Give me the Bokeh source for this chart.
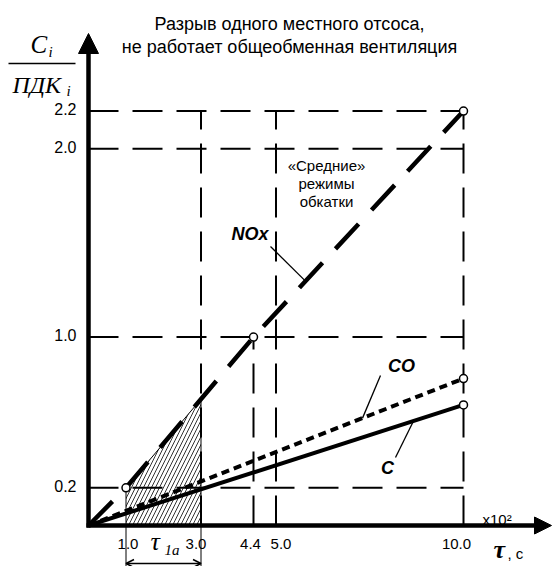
import numpy as np
from bokeh.plotting import figure
from bokeh.models import Range1d, Arrow, NormalHead, OpenHead
from bokeh.core.properties import value
from bokeh.embed import file_html
from bokeh.resources import INLINE

# ---------------------------------------------------------------- data
# time axis in units of 10^2 s, concentration as C_i / ПДК_i
tau_nox = [0.0, 1.0, 4.4, 10.0]
nox = [0.0, 0.2, 1.0, 2.2]
tau_co = [0.0, 10.0]
co = [0.0, 0.78]
tau_c = [0.0, 10.0]
c_soot = [0.0, 0.64]

x_ticks = [1.0, 3.0, 4.4, 5.0, 10.0]
x_tick_labels = ["1.0", "3.0", "4.4", "5.0", "10.0"]
y_ticks = [0.2, 1.0, 2.0, 2.2]
y_tick_labels = ["0.2", "1.0", "2.0", "2.2"]
tau_1a = [1.0, 3.0]            # interval τ1a (hatched)
v_guides = [3.0, 5.0, 10.0]    # vertical guides up to the top level

# ---------------------------------------------------------------- layout
W, H = 552, 566
X0, Y0 = 88, 525          # canvas pixel of the origin
SX, SY = 37.5, 188.4      # pixels per unit on each axis
x_label_nudge = [2, -5, -3, 5, -7]   # px, keeps close tick labels apart


def ux(px):
    return (px - X0) / SX


def uy(py):
    return (Y0 - py) / SY


p = figure(width=W, height=H, output_backend="svg", toolbar_location=None,
           x_range=Range1d(ux(0), ux(W)), y_range=Range1d(uy(H), uy(0)),
           x_axis_location=None, y_axis_location=None, min_border=0)
p.outline_line_color = None
p.grid.visible = False
p.background_fill_color = "white"
p.border_fill_color = "white"

SANS = value("Liberation Sans")
SERIF = value("Liberation Serif")


def label(px, py, txt, size, font=SANS, style="normal", align="left",
          baseline="alphabetic"):
    p.text(x=[ux(px)], y=[uy(py)], text=[txt], text_font=font,
           text_font_size=f"{size}px", text_font_style=style,
           text_align=align, text_baseline=baseline, text_color="black")


# ---------------------------------------------------------------- guides
tau_max = max(x_ticks)
top = max(y_ticks)
DASH = "30 14"
p.segment(x0=[0] * len(y_ticks), y0=y_ticks, x1=[tau_max] * len(y_ticks),
          y1=y_ticks, line_width=2, line_dash=DASH, line_color="black")
p.segment(x0=v_guides, y0=[0] * len(v_guides), x1=v_guides,
          y1=[top] * len(v_guides), line_width=2, line_dash=DASH,
          line_color="black")
nox_44 = float(np.interp(4.4, tau_nox, nox))
p.segment(x0=[4.4], y0=[0], x1=[4.4], y1=[nox_44], line_width=2,
          line_dash=DASH, line_color="black")

# hatched interval τ1a under the NOx curve
n1 = float(np.interp(tau_1a[0], tau_nox, nox))
n3 = float(np.interp(tau_1a[1], tau_nox, nox))
p.patch([tau_1a[0], tau_1a[0], tau_1a[1], tau_1a[1]], [0, n1, n3, 0],
        fill_color=None, hatch_pattern="/", hatch_color="black",
        hatch_weight=0.8, hatch_scale=8, line_color="black", line_width=1)
p.segment(x0=tau_1a, y0=[0, 0], x1=tau_1a, y1=[uy(H)] * 2,
          line_width=1, line_color="black")

# ---------------------------------------------------------------- series
p.line(tau_nox, nox, line_width=4.5, line_dash="34 19", line_color="black")
p.line(tau_co, co, line_width=4, line_dash="8 5", line_color="black")
p.line(tau_c, c_soot, line_width=4, line_color="black")
p.scatter(x=tau_nox[1:] + [tau_co[-1], tau_c[-1]],
          y=nox[1:] + [co[-1], c_soot[-1]], size=8, fill_color="white",
          line_color="black", line_width=1.5)

# callout leaders: label anchor -> point on the curve
for (sx, sy, tip_px, tt, vv) in [(270, 246, 305, tau_nox, nox),
                                 (380, 375, 362, tau_co, co),
                                 (395, 457, 413, tau_c, c_soot)]:
    tx = ux(tip_px)
    ty = float(np.interp(tx, tt, vv))
    p.segment(x0=[ux(sx)], y0=[uy(sy)], x1=[tx], y1=[ty], line_width=1.3,
              line_color="black")

# ---------------------------------------------------------------- axes
p.add_layout(Arrow(end=NormalHead(size=20, fill_color="black",
                                  line_color="black"),
                   x_start=0, y_start=uy(Y0 + 2), x_end=0, y_end=uy(33),
                   line_width=4.5, line_color="black"))
p.add_layout(Arrow(end=NormalHead(size=17, fill_color="black",
                                  line_color="black"),
                   x_start=ux(X0 - 2), y_start=0, x_end=ux(551), y_end=0,
                   line_width=4.5, line_color="black"))
p.add_layout(Arrow(start=OpenHead(size=8, line_width=1.5),
                   end=OpenHead(size=8, line_width=1.5),
                   x_start=tau_1a[0], y_start=uy(563), x_end=tau_1a[1],
                   y_end=uy(563), line_width=1.5, line_color="black"))

p.text(x=[0] * len(y_ticks), y=y_ticks, text=y_tick_labels, x_offset=-12,
       y_offset=-2, text_font=SANS, text_font_size="16px",
       text_align="right", text_baseline="middle", text_color="black")
p.text(x=x_ticks, y=[0] * len(x_ticks), text=x_tick_labels, y_offset=13,
       x_offset=x_label_nudge, text_font=SANS, text_font_size="15px",
       text_align="center", text_baseline="top", text_color="black")

# ---------------------------------------------------------------- texts
label(289, 23, "Разрыв одного местного отсоса,", 18, align="center",
      baseline="middle")
label(289, 46, "не работает общеобменная вентиляция", 18, align="center",
      baseline="middle")

# y-axis quantity C_i / ПДК_i
label(30, 44, "C", 25, font=SERIF, style="italic")
label(48, 51, "i", 15, font=SERIF, style="italic")
p.segment(x0=[ux(8)], y0=[uy(63)], x1=[ux(75)], y1=[uy(63)],
          line_width=1.5, line_color="black")
label(12, 84, "ПДК", 24, font=SERIF, style="italic")
label(66, 90, "i", 15, font=SERIF, style="italic")

# x-axis quantity
label(482, 519, "x10²", 15)
label(493, 549, "τ", 26, font=SERIF, style="bold italic", baseline="middle")
label(507, 553, ", c", 15, baseline="middle")
label(150, 541, "τ", 26, font=SERIF, style="italic", baseline="middle")
label(164, 549, "1a", 15, font=SERIF, style="italic", baseline="middle")

# curve names and note
label(231, 233, "NOx", 18, style="bold italic", baseline="middle")
label(401, 365, "CO", 18, style="bold italic", align="center",
      baseline="middle")
label(387, 467, "C", 18, style="bold italic", align="center",
      baseline="middle")
for i, line in enumerate(["«Средние»", "режимы", "обкатки"]):
    label(326, 165 + 18 * i, line, 15, align="center", baseline="middle")

open("out.html", "w").write(file_html(p, INLINE))
